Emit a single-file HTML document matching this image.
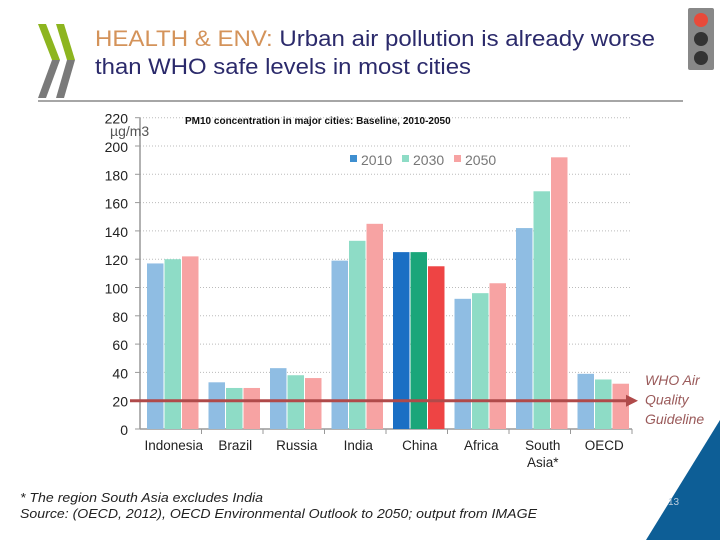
<!DOCTYPE html>
<html><head><meta charset="utf-8"><style>
body{margin:0;width:720px;height:540px;overflow:hidden;background:#fff;font-family:"Liberation Sans",sans-serif;position:relative}
</style></head><body>
<svg width="720" height="540" style="position:absolute;left:0;top:0">
<g>
<polygon points="38,24 46,24 60,60 52,60" fill="#8db51f"/>
<polygon points="52,60 60,60 46,98 38,98" fill="#7a7a7a"/>
<polygon points="56,24 64,24 75,60 67,60" fill="#8db51f"/>
<polygon points="67,60 75,60 64,98 56,98" fill="#7a7a7a"/>
</g>
<g>
<rect x="688" y="8" width="26" height="62" rx="2" fill="#888"/>
<circle cx="701" cy="20" r="7" fill="#e84a3a"/>
<circle cx="701" cy="39" r="7" fill="#333"/>
<circle cx="701" cy="58" r="7" fill="#333"/>
</g>
<text x="95" y="46" font-size="22" fill="#d4935a" textLength="560" lengthAdjust="spacingAndGlyphs">HEALTH &amp; ENV: <tspan fill="#2b2a6b">Urban air pollution is already worse</tspan></text>
<text x="95" y="74" font-size="22" fill="#2b2a6b" textLength="376" lengthAdjust="spacingAndGlyphs">than WHO safe levels in most cities</text>
<line x1="38" y1="101" x2="683" y2="101" stroke="#888" stroke-width="1.5"/>
<polygon points="720,420 720,540 646,540" fill="#0d5e96"/>
<text x="668" y="505" font-size="10" fill="#bcd">13</text>
<g id="chart"></g>
<text x="20" y="502" font-size="12.5" font-style="italic" fill="#222" textLength="243" lengthAdjust="spacingAndGlyphs">* The region South Asia excludes India</text>
<text x="20" y="518" font-size="12.5" font-style="italic" fill="#222" textLength="517" lengthAdjust="spacingAndGlyphs">Source: (OECD, 2012), OECD Environmental Outlook  to 2050; output from IMAGE</text>
</svg>
<script>
const categories=["Indonesia","Brazil","Russia","India","China","Africa","South Asia*","OECD"];
const s2010=[117,33,43,119,125,92,142,39];
const s2030=[120,29,38,133,125,96,168,35];
const s2050=[122,29,36,145,115,103,192,32];
const ticks=[0,20,40,60,80,100,120,140,160,180,200,220];
const whoGuideline=20;
const NS="http://www.w3.org/2000/svg";
const g=document.getElementById('chart');
const x0=140,x1=632,y0=429,ppu=1.415;
const y=v=>y0-v*ppu;
const gw=(x1-x0)/categories.length;
function mk(t,a,p){const e=document.createElementNS(NS,t);for(const k in a)e.setAttribute(k,a[k]);(p||g).appendChild(e);return e;}
ticks.forEach(t=>{
 if(t>0){const l=mk('line',{x1:x0,x2:x1,y1:y(t),y2:y(t),stroke:'#bbb','stroke-dasharray':'1,2'});
 
 }
 const tx=mk('text',{x:128,y:y(t)+6,'font-size':14,'text-anchor':'end',fill:'#222'});tx.textContent=t;
 
 
 const tk=mk('line',{x1:x0-5,x2:x0,y1:y(t),y2:y(t),stroke:'#999'});
 
 
});
const ax=mk('line',{x1:x0,x2:x0,y1:y(220),y2:y0,stroke:'#999','stroke-width':1.5});


const xa=mk('line',{x1:x0,x2:x1,y1:y0,y2:y0,stroke:'#999','stroke-width':1.5});


const un=mk('text',{x:110,y:136,'font-size':14,fill:'#555'});un.textContent='µg/m3';


const ct=mk('text',{x:185,y:124,'font-size':10,'font-weight':'bold',fill:'#111'});ct.textContent='PM10 concentration in major cities: Baseline, 2010-2050';


const series=[s2010,s2030,s2050];
const cols=[['#8fbde3','#1b6fc4'],['#8edcc6','#1aa67a'],['#f7a3a3','#ee4444']];
const names=['2010','2030','2050'];
categories.forEach((c,i)=>{
 const gx=x0+i*gw;
 series.forEach((s,j)=>{
  const col=c==='China'?cols[j][1]:cols[j][0];
  const r=mk('rect',{x:gx+7+j*17.5,y:y(s[i]),width:16.5,height:s[i]*ppu,fill:col});
  
  
 });
 const tk=mk('line',{x1:gx+gw,x2:gx+gw,y1:y0,y2:y0+5,stroke:'#999'});
 
 
 const parts=c==='South Asia*'?['South','Asia*']:[c];
 parts.forEach((p,k)=>{const t=mk('text',{x:gx+gw/2+3,y:450+k*17,'font-size':13.5,'text-anchor':'middle',fill:'#222'});t.textContent=p;
 
 });
});
names.forEach((n,j)=>{
 const lx=350+j*52;
 const r=mk('rect',{x:lx,y:155,width:7,height:7,fill:j===0?'#3f8fd0':cols[j][0]});
 
 
 const t=mk('text',{x:lx+11,y:165,'font-size':14,fill:'#777'});t.textContent=n;
 
 
});
const wy=y(whoGuideline);
const wl=mk('line',{x1:130,x2:628,y1:wy,y2:wy,stroke:'#b04a4a','stroke-width':3});


const wa=mk('polygon',{points:`626,${wy-6} 638,${wy} 626,${wy+6}`,fill:'#b04a4a'});


['WHO Air','Quality','Guideline'].forEach((p,k)=>{const t=mk('text',{x:645,y:385+k*19.5,'font-size':14,'font-style':'italic',fill:'#9a5a5a'});t.textContent=p;
 
 });
</script>
</body></html>
